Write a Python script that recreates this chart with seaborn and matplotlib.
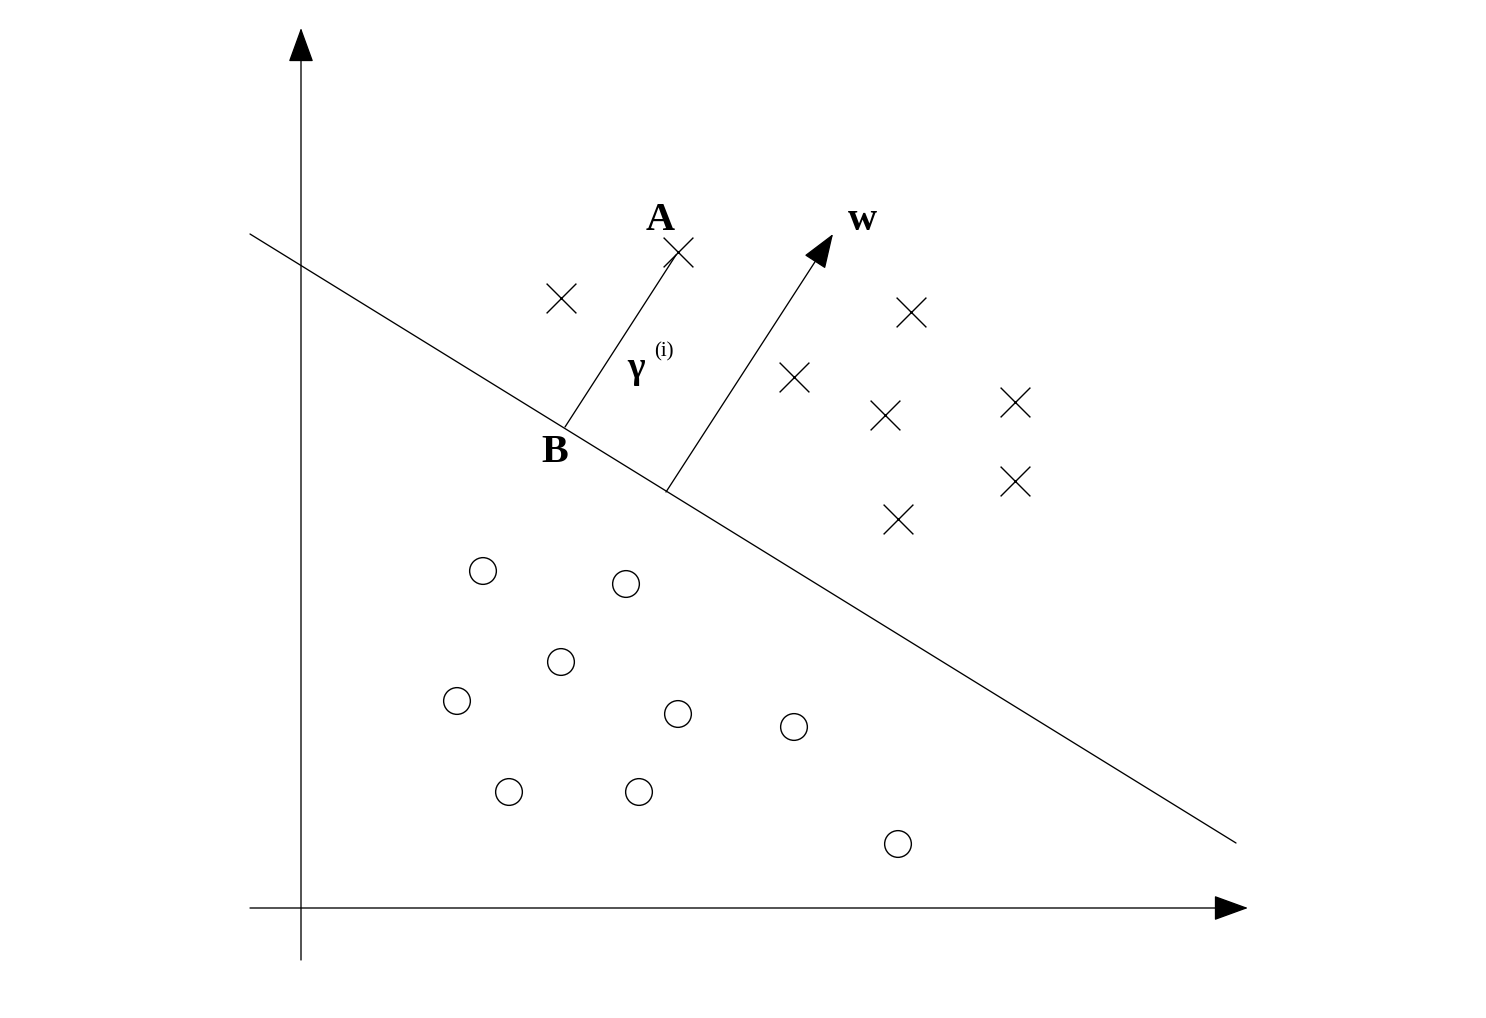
import numpy as np
import pandas as pd
import matplotlib
matplotlib.use("Agg")
import matplotlib.pyplot as plt
import seaborn as sns

sns.set_theme(style="white")
plt.rcParams['font.family'] = ['Liberation Serif', 'DejaVu Serif']

# positive examples (crosses) and negative examples (circles), picture coords
cross_x = [561, 678, 911, 794, 885, 1015, 1015, 898]
cross_y = [298, 252, 312, 377, 415, 402, 481, 519]
circle_x = [483, 626, 561, 457, 678, 794, 509, 639, 898]
circle_y = [571, 584, 662, 701, 714, 727, 792, 792, 844]

# separating hyperplane end points
boundary_x = [250, 1236]
boundary_y = [234, 843]

# segment from A down to B (the geometric margin)
margin_x = [676, 565]
margin_y = [255, 427]

# w vector: start and tip
w_start = (666, 492)
w_tip = (833, 234)

# axes: origin and arrow tips
x_axis = ((250, 908), (1248, 908))
y_axis = ((301, 960), (301, 28))

points = pd.DataFrame({
    'x': cross_x + circle_x,
    'y': cross_y + circle_y,
    'label': ['pos'] * len(cross_x) + ['neg'] * len(circle_x),
})

fig = plt.figure(figsize=(14.86, 10.18), dpi=100)
ax = fig.add_axes([0, 0, 1, 1])
ax.set_xlim(0, 1486)
ax.set_ylim(1018, 0)
ax.axis('off')

pos = points[points['label'] == 'pos']
neg = points[points['label'] == 'neg']
sns.scatterplot(data=pos, x='x', y='y', marker='x', s=460, color='black',
                linewidth=1.0, ax=ax, legend=False)
sns.scatterplot(data=neg, x='x', y='y', marker='o', s=370, facecolor='none',
                edgecolor='black', linewidth=1.0, ax=ax, legend=False)

ax.plot(boundary_x, boundary_y, color='black', lw=0.95)
ax.plot(margin_x, margin_y, color='black', lw=0.95)

arrow = dict(arrowstyle='-|>,head_length=1.1,head_width=0.4', color='black',
             lw=0.95, shrinkA=0, shrinkB=0, mutation_scale=20)
ax.annotate('', xy=x_axis[1], xytext=x_axis[0], arrowprops=arrow)
ax.annotate('', xy=y_axis[1], xytext=y_axis[0], arrowprops=arrow)
ax.annotate('', xy=w_tip, xytext=w_start, arrowprops=arrow)

txt = dict(color='black', ha='center', va='center')
ax.text(660, 220, 'A', fontsize=29, fontweight='bold', **txt)
ax.text(555, 452, 'B', fontsize=29, fontweight='bold', **txt)
ax.text(862, 220, 'w', fontsize=29, fontweight='bold', **txt)
ax.text(636, 368, 'γ', fontsize=27, fontweight='bold', **txt)
ax.text(664, 352, '(i)', fontsize=15, **txt)

fig.savefig('out.png', dpi=100, facecolor='white')
